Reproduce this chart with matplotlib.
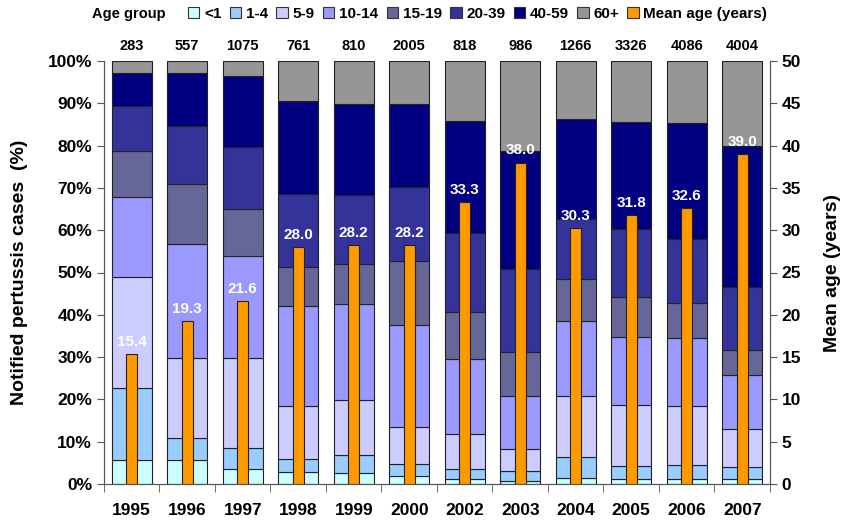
import matplotlib
matplotlib.use("Agg")
import matplotlib.pyplot as plt
from matplotlib.patches import Patch
import numpy as np

plt.rcParams['font.family'] = ['Liberation Sans', 'DejaVu Sans']
plt.rcParams['font.weight'] = 'bold'

years = ['1995', '1996', '1997', '1998', '1999', '2000', '2002', '2003', '2004', '2005', '2006', '2007']
counts = [283, 557, 1075, 761, 810, 2005, 818, 986, 1266, 3326, 4086, 4004]
groups = ['<1', '1-4', '5-9', '10-14', '15-19', '20-39', '40-59', '60+']
# cumulative upper boundaries (%) per age group
cum = {
    '<1':    [5.7, 5.7, 3.5, 2.8, 2.5, 1.9, 1.1, 0.8, 1.5, 1.1, 1.3, 1.1],
    '1-4':   [22.6, 10.8, 8.4, 5.8, 6.9, 4.7, 3.5, 3.1, 6.5, 4.3, 4.4, 4.0],
    '5-9':   [48.9, 29.9, 29.7, 18.4, 19.9, 13.4, 11.8, 8.2, 20.8, 18.7, 18.5, 13.0],
    '10-14': [67.9, 56.7, 54.0, 42.1, 42.6, 37.6, 29.6, 20.8, 38.6, 34.8, 34.4, 25.8],
    '15-19': [78.8, 70.9, 64.9, 51.4, 51.9, 52.8, 40.6, 31.1, 48.4, 44.1, 42.9, 31.7],
    '20-39': [89.4, 84.7, 79.7, 68.6, 68.4, 70.3, 59.4, 50.8, 62.6, 60.2, 58.0, 46.6],
    '40-59': [97.2, 97.1, 96.5, 90.6, 89.8, 89.8, 85.9, 78.7, 86.3, 85.6, 85.4, 79.9],
    '60+':   [100.0] * 12,
}
mean_age = [15.4, 19.3, 21.6, 28.0, 28.2, 28.2, 33.3, 38.0, 30.3, 31.8, 32.6, 39.0]
colors = ['#CCFFFF', '#99CCFF', '#CCCCFF', '#9999FF', '#666699', '#333399', '#000080', '#969696']
orange = '#FF9900'

fig = plt.figure(figsize=(8.45, 5.22), dpi=100)
ax = fig.add_axes([104/845, 1 - 484/522, (770-104)/845, (484-61)/522])
x = np.arange(len(years))
prev = np.zeros(len(years))
for g, c in zip(groups, colors):
    top = np.array(cum[g])
    ax.bar(x, top - prev, bottom=prev, width=0.72, color=c, edgecolor='#222222', linewidth=0.8, zorder=2)
    prev = top

ax.set_xlim(-0.5, len(years) - 0.5)
ax.set_ylim(0, 100)
ax.set_yticks(np.arange(0, 101, 10))
ax.set_yticklabels([f'{v}%' for v in range(0, 101, 10)], fontsize=12.5, fontweight='bold')
ax.set_xticks(x)
ax.set_xticklabels(years, fontsize=12.5, fontweight='bold')
ax.tick_params(axis='x', length=0, pad=14)
ax.set_xticks(np.arange(-0.5, len(years), 1), minor=True)
ax.tick_params(axis='x', which='minor', length=6, color='#555555')
ax.set_ylabel('Notified pertussis cases  (%)', fontsize=14, fontweight='bold', labelpad=14)
ax.spines['top'].set_visible(False)
for s in ['left', 'bottom', 'right']:
    ax.spines[s].set_color('#555555')
ax.tick_params(axis='y', color='#555555', length=5)

for i, n in enumerate(counts):
    ax.text(x[i], 101.8, str(n), ha='center', va='bottom', fontsize=10.5, fontweight='bold')

ax2 = ax.twinx()
ax2.bar(x, mean_age, width=0.19, color=orange, edgecolor='#222222', linewidth=0.8, zorder=3)
ax2.set_ylim(0, 50)
ax2.set_yticks(np.arange(0, 51, 5))
ax2.set_yticklabels([str(v) for v in range(0, 51, 5)], fontsize=12.5, fontweight='bold')
ax2.set_ylabel('Mean age (years)', fontsize=14, fontweight='bold', labelpad=16)
ax2.spines['top'].set_visible(False)
for s in ['left', 'bottom', 'right']:
    ax2.spines[s].set_color('#555555')
ax2.tick_params(axis='y', color='#555555', length=5)
for i, m in enumerate(mean_age):
    ax2.text(x[i], m + 0.6, f'{m:.1f}', ha='center', va='bottom', color='white', fontsize=11, fontweight='bold')

handles = [Patch(facecolor=c, edgecolor='#333333', linewidth=0.8, label=g) for g, c in zip(groups, colors)]
handles.append(Patch(facecolor=orange, edgecolor='#333333', linewidth=0.8, label='Mean age (years)'))
fig.text(92/845, 1 - 14/522, 'Age group', ha='left', va='center', fontsize=10.5, fontweight='bold')
fig.legend(handles=handles, loc='center left', bbox_to_anchor=(188/845, 1 - 14/522), ncol=9, frameon=False,
           handlelength=0.75, handleheight=0.75, handletextpad=0.3, columnspacing=0.55,
           borderpad=0, borderaxespad=0, prop={'weight': 'bold', 'size': 11})

fig.savefig('out.png', dpi=100)
